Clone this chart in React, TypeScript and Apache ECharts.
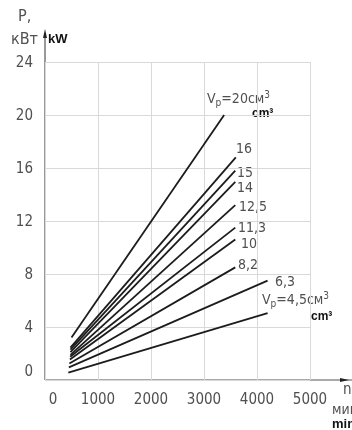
import React, { useEffect, useRef } from "react";
import * as echarts from "echarts";

const xTicks = [0, 1000, 2000, 3000, 4000, 5000];
const yTicks = [0, 4, 8, 12, 16, 20, 24];

// each line: start (n, P) and end (n, P)
const lineNames = ["20", "16", "15", "14", "12,5", "11,3", "10", "8,2", "6,3", "4,5"];
const nStart = [500, 480, 480, 480, 480, 475, 470, 460, 450, 440];
const pStart = [3.2, 2.45, 2.3, 2.1, 1.9, 1.75, 1.55, 1.25, 0.95, 0.55];
const nEnd = [3380, 3600, 3590, 3590, 3590, 3590, 3590, 3590, 4200, 4200];
const pEnd = [20.0, 16.8, 15.8, 14.95, 13.2, 11.5, 10.6, 8.5, 7.5, 5.05];

const FONT = "'Liberation Sans Narrow', 'DejaVu Sans Condensed', 'Liberation Sans', sans-serif";
const BOLD = "'Liberation Sans', Arial, sans-serif";
const GRAY = "#505050";

export default function App() {
  const ref = useRef<HTMLDivElement>(null);
  useEffect(() => {
    if (!ref.current) return;
    const chart = echarts.init(ref.current, undefined, { renderer: "svg" });
    const series = lineNames.map((name, i) => ({
      name,
      type: "line",
      data: [
        [nStart[i], pStart[i]],
        [nEnd[i], pEnd[i]],
      ],
      symbol: "none",
      lineStyle: { color: "#1c1c1c", width: 1.8 },
      silent: true,
    }));
    const labelStyle = { fontFamily: FONT, fontSize: 14, fill: GRAY };
    const simpleLabels: [string, number, number][] = [
      ["16", 236, 148],
      ["15", 237, 172],
      ["14", 237, 187],
      ["12,5", 239, 206],
      ["11,3", 238, 227],
      ["10", 241, 243],
      ["8,2", 238, 264],
      ["6,3", 275, 281],
    ];
    const rich = {
      v: { fontFamily: FONT, fontSize: 14, color: GRAY },
      s: { fontFamily: FONT, fontSize: 10, color: GRAY, padding: [8, 0, 0, 0] },
      u: { fontFamily: FONT, fontSize: 10, color: GRAY, padding: [0, 0, 8, 0] },
    };
    const vpLabel = (val: string, x: number, y: number) => ({
      type: "text",
      x,
      y,
      style: {
        text: `{v|V}{s|p}{v|=${val}см}{u|3}`,
        rich,
        verticalAlign: "middle",
        fill: GRAY,
      },
    });
    const cmLabel = (x: number, y: number) => ({
      type: "text",
      x,
      y,
      style: {
        text: "cm³",
        fontFamily: BOLD,
        fontWeight: "bold",
        fontSize: 12,
        fill: "#111",
        verticalAlign: "middle",
      },
    });
    chart.setOption({
      animation: false,
      grid: { left: 45, right: 42, top: 62, bottom: 50 },
      xAxis: {
        type: "value",
        min: xTicks[0],
        max: xTicks[xTicks.length - 1],
        interval: 1000,
        axisLine: { show: false },
        axisTick: { show: false },
        splitLine: { show: true, lineStyle: { color: "#d9d9d9", width: 1 } },
        axisLabel: {
          margin: 11,
          fontFamily: FONT,
          fontSize: 15,
          color: GRAY,
          formatter: (v: number) => (v === 0 ? "{z|0}" : "" + v),
          rich: { z: { fontFamily: FONT, fontSize: 15, color: GRAY, padding: [0, 0, 0, 16] } },
        },
      },
      yAxis: {
        type: "value",
        min: yTicks[0],
        max: yTicks[yTicks.length - 1],
        interval: 4,
        axisLine: { show: false },
        axisTick: { show: false },
        splitLine: { show: true, lineStyle: { color: "#d9d9d9", width: 1 } },
        axisLabel: {
          margin: 12,
          fontFamily: FONT,
          fontSize: 15,
          color: GRAY,
          formatter: (v: number) => (v === 0 ? "{z|0}" : "" + v),
          rich: { z: { fontFamily: FONT, fontSize: 15, color: GRAY, padding: [0, 0, 18, 0] } },
        },
      },
      series,
      graphic: [
        { type: "line", shape: { x1: 45, y1: 380, x2: 45, y2: 33 }, style: { stroke: "#555", lineWidth: 1.2 }, silent: true },
        { type: "polygon", shape: { points: [[43, 38], [45, 29], [47, 38]] }, style: { fill: "#222" }, silent: true },
        { type: "line", shape: { x1: 45, y1: 380, x2: 352, y2: 380 }, style: { stroke: "#555", lineWidth: 1.2 }, silent: true },
        { type: "polygon", shape: { points: [[340, 378], [349, 380], [340, 382]] }, style: { fill: "#222" }, silent: true },
        { type: "text", x: 18, y: 15, style: { text: "P,", fontFamily: FONT, fontSize: 16, fill: GRAY, verticalAlign: "middle" } },
        { type: "text", x: 38, y: 38, style: { text: "кВт", fontFamily: FONT, fontSize: 16, fill: GRAY, align: "right", verticalAlign: "middle" } },
        { type: "text", x: 48, y: 38, style: { text: "kW", fontFamily: BOLD, fontWeight: "bold", fontSize: 13, fill: "#111", verticalAlign: "middle" } },
        { type: "text", x: 343, y: 389, style: { text: "n,", fontFamily: FONT, fontSize: 15, fill: GRAY, verticalAlign: "middle" } },
        { type: "text", x: 332, y: 409, style: { text: "мин⁻¹", fontFamily: FONT, fontSize: 14, fill: GRAY, verticalAlign: "middle" } },
        { type: "text", x: 332, y: 423, style: { text: "min⁻¹", fontFamily: BOLD, fontWeight: "bold", fontSize: 13, fill: "#111", verticalAlign: "middle" } },
        ...simpleLabels.map(([t, x, y]) => ({
          type: "text",
          x,
          y,
          style: { ...labelStyle, text: t, verticalAlign: "middle" },
        })),
        vpLabel("20", 207, 98),
        cmLabel(252, 113),
        vpLabel("4,5", 262, 299),
        cmLabel(311, 316),
      ],
    });
    return () => chart.dispose();
  }, []);
  return <div ref={ref} style={{ position: "fixed", left: 0, top: 0, width: 352, height: 430 }} />;
}
